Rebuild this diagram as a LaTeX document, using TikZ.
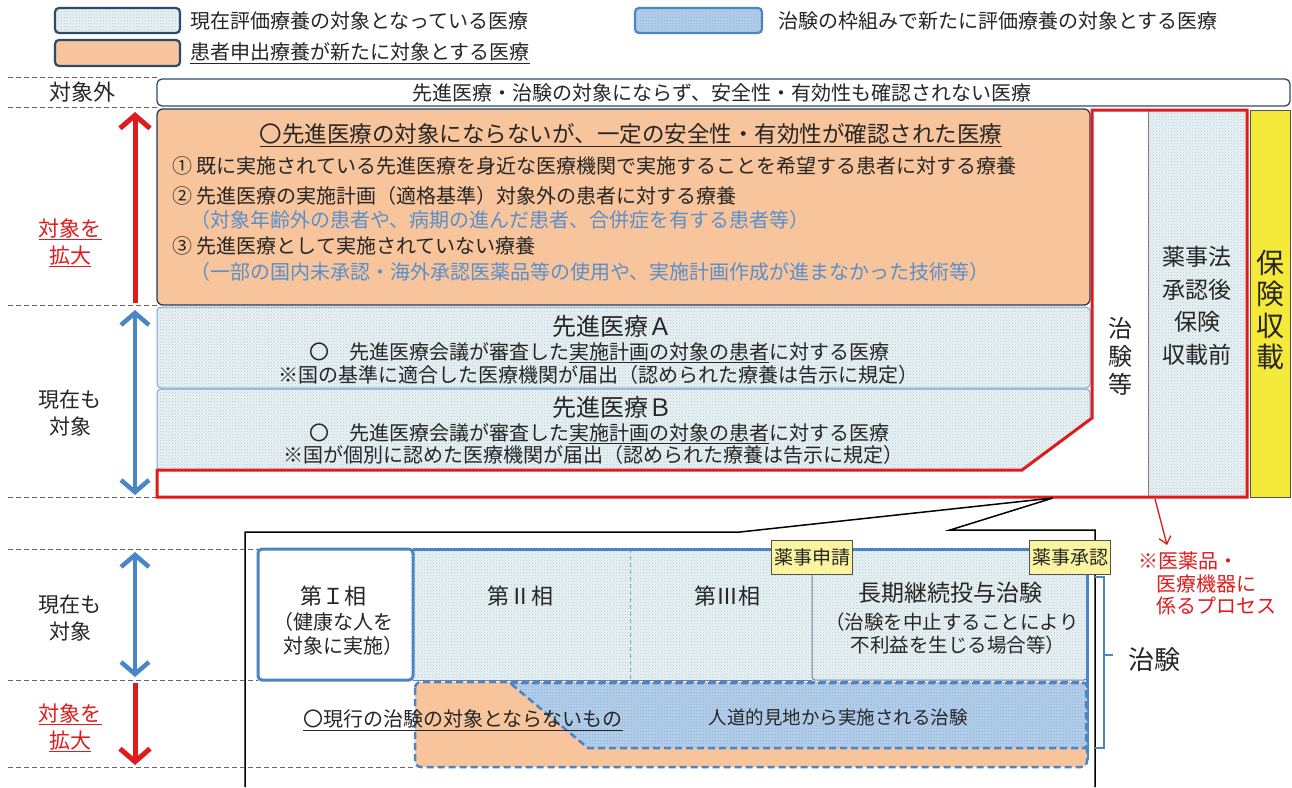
\documentclass[tikz,border=0pt]{standalone}
\usepackage{fontspec}
\setmainfont{Noto Sans CJK JP}
\usetikzlibrary{patterns,arrows.meta}
\definecolor{navy}{HTML}{2E4A6B}
\definecolor{orangef}{HTML}{F7C49B}
\definecolor{lightf}{HTML}{E9F2F5}
\definecolor{lightdot}{HTML}{AFC5CE}
\definecolor{bluef}{HTML}{B5D0EC}
\definecolor{bluedot}{HTML}{86A8CF}
\definecolor{myblue}{HTML}{4A86C5}
\definecolor{thinblue}{HTML}{7FA6CF}
\definecolor{myred}{HTML}{E01B1B}
\definecolor{txtblue}{HTML}{5A8FCB}
\definecolor{yel}{HTML}{F5E93A}
\definecolor{paleyel}{HTML}{FAF4A0}
\definecolor{txt}{HTML}{262626}
\newcommand{\jfs}[2]{\fontsize{#1}{#2}\selectfont}
\tikzset{
  lightdots/.style={preaction={fill=lightf}, pattern=crosshatch dots, pattern color=lightdot},
  bluedots/.style={preaction={fill=bluef}, pattern=crosshatch dots, pattern color=bluedot},
  guide/.style={draw=gray!80!black, line width=0.9pt, dash pattern=on 5pt off 3pt},
  bigred/.style={draw=myred, line width=5pt, -{Straight Barb[length=13pt,width=30pt]}},
  bigblue/.style={draw=myblue, line width=4.5pt, {Straight Barb[length=12pt,width=28pt]}-{Straight Barb[length=12pt,width=28pt]}},
  lbl/.style={font=\jfs{20}{24}},
  yellab/.style={draw=txt!80, line width=1pt, fill=paleyel, minimum width=81pt, minimum height=34pt, font=\jfs{19}{20}},
}
\begin{document}
\begin{tikzpicture}[x=1pt,y=-1pt, every node/.style={inner sep=0pt, text=txt}]
\useasboundingbox (0,0) rectangle (1292,787);
\fill[white] (0,0) rectangle (1292,787);

% ---------- legend ----------
\path[draw=navy, line width=2.2pt, rounded corners=4pt, lightdots] (55,8) rectangle (180,33);
\node[lbl, anchor=west] (leg1) at (190,21) {現在評価療養の対象となっている医療};
\path[draw=navy, line width=2.2pt, rounded corners=4pt, fill=orangef] (55,40) rectangle (180,66);
\node[lbl, anchor=west] (leg2) at (190,53) {\underline{患者申出療養が新たに対象とする医療}};
\path[draw=myblue, line width=2.2pt, rounded corners=4pt, bluedots] (635,8) rectangle (762,33);
\node[lbl, anchor=west] (leg3) at (778,21) {治験の枠組みで新たに評価療養の対象とする医療};

% ---------- guide lines (top part) ----------
\draw[guide] (8,77) -- (160,77);
\draw[guide] (8,107) -- (160,107);
\draw[guide] (8,305) -- (157,305);
\draw[guide] (8,497) -- (157,497);

% ---------- out-of-scope row ----------
\node[font=\jfs{22}{24}] (gai) at (82,92) {対象外};
\path[draw=navy, line width=1.3pt, rounded corners=5pt, fill=white] (157,79) rectangle (1290,106);
\node[lbl] (outtxt) at (722,93) {先進医療・治験の対象にならず、安全性・有効性も確認されない医療};

% ---------- orange box ----------
\path[draw=navy!80!black, line width=1.3pt, rounded corners=6pt, fill=orangef] (157,109) rectangle (1090,305);
\node[font=\jfs{22.5}{24}] (otitle) at (631,135) {\underline{〇先進医療の対象にならないが、一定の安全性・有効性が確認された医療}};
\node[lbl, anchor=west] (o1) at (172,166) {① 既に実施されている先進医療を身近な医療機関で実施することを希望する患者に対する療養};
\node[lbl, anchor=west] (o2) at (172,196) {② 先進医療の実施計画（適格基準）対象外の患者に対する療養};
\node[lbl, anchor=west, text=txtblue] (o2b) at (190,220) {（対象年齢外の患者や、病期の進んだ患者、合併症を有する患者等）};
\node[lbl, anchor=west] (o3) at (172,246) {③ 先進医療として実施されていない療養};
\node[lbl, anchor=west, text=txtblue] (o3b) at (190,272) {（一部の国内未承認・海外承認医薬品等の使用や、実施計画作成が進まなかった技術等）};

% ---------- senshin A / B ----------
\path[draw=thinblue, line width=1pt, rounded corners=4pt, lightdots] (157,307) rectangle (1090,388);
\node[font=\jfs{24}{26}] (atitle) at (612,326) {先進医療Ａ};
\node[lbl] (a1) at (599,353) {〇　先進医療会議が審査した\underline{実施計画の対象の患者}に対する医療};
\node[lbl] (a2) at (598,375) {※国の基準に適合した医療機関が届出（認められた療養は告示に規定）};
\path[draw=thinblue, line width=1pt, rounded corners=4pt, lightdots] (157,389) rectangle (1090,470);
\node[font=\jfs{24}{26}] (btitle) at (612,407) {先進医療Ｂ};
\node[lbl] (b1) at (599,434) {〇　先進医療会議が審査した\underline{実施計画の対象の患者}に対する医療};
\node[lbl] (b2) at (593,455) {※国が個別に認めた医療機関が届出（認められた療養は告示に規定）};
\fill[white] (1020,473) -- (1092,416) -- (1094,416) -- (1094,473) -- cycle;

% ---------- right columns ----------
\fill[white] (1092,110) rectangle (1148,497);
\path[lightdots] (1148,110) rectangle (1247,497);
\draw[gray, line width=1pt] (1148,110) -- (1148,497);
\node[font=\jfs{24}{28}, align=center] (chiken) at (1120,356) {治\\験\\等};
\node[font=\jfs{23}{32.5}, align=center] (yakuji) at (1197,306) {薬事法\\承認後\\保険\\収載前};
\path[draw=txt!80, line width=1pt, fill=yel] (1250,110) rectangle (1290,497);
\node[font=\jfs{28}{31.5}, align=center] (hoken) at (1270,310) {保\\険\\収\\載};

% red outline
\draw[myred, line width=3pt, line join=miter] (157,470) -- (1022,470) -- (1092,418) -- (1092,110) -- (1247,110) -- (1247,497) -- (157,497) -- cycle;

% ---------- left arrows (top) ----------
\coordinate (ra1) at (135,303);
\coordinate (ra2) at (135,112);
\draw[bigred] (ra1) -- (ra2);
\node[font=\jfs{21}{27}, text=myred, align=center] (kakudai1) at (70,243) {\underline{対象を}\\\underline{拡大}};
\coordinate (ba1) at (135,310);
\coordinate (ba2) at (135,495);
\draw[bigblue] (ba1) -- (ba2);
\node[font=\jfs{21}{27}, align=center] (genzai1) at (70,413) {現在も\\対象};

% ---------- callout ----------
\draw[black, line width=1.5pt, line join=miter] (245,787) -- (245,532) -- (740,532) -- (1053,498) -- (950,530) -- (1095,530) -- (1095,787);

% ---------- bottom guides & arrows ----------
\draw[guide] (8,549) -- (258,549);
\draw[guide] (8,680) -- (258,680);
\draw[guide] (8,767) -- (415,767);
\coordinate (ba3) at (135,552);
\coordinate (ba4) at (135,677);
\draw[bigblue] (ba3) -- (ba4);
\node[font=\jfs{21}{27}, align=center] (genzai2) at (70,618) {現在も\\対象};
\coordinate (ra3) at (135,683);
\coordinate (ra4) at (135,765);
\draw[bigred] (ra3) -- (ra4);
\node[font=\jfs{21}{27}, text=myred, align=center] (kakudai2) at (70,728) {\underline{対象を}\\\underline{拡大}};

% ---------- phases ----------
\path[lightdots] (413,549) rectangle (812,680);
\draw[thinblue, line width=1pt, dash pattern=on 4pt off 3pt] (630,549) -- (630,680);
\path[lightdots, draw=navy!70, line width=1pt, rounded corners=3pt] (812,549) rectangle (1087,680);
\draw[navy!70, line width=1pt] (413,680) -- (812,680);
\draw[myblue, line width=3pt] (413,549) -- (1087,549) -- (1087,760);
\path[draw=myblue, line width=3pt, rounded corners=4pt, fill=white] (258,549) rectangle (413,680);
\node[font=\jfs{22}{24}] (p1) at (333,596) {第Ｉ相};
\node[lbl] (p1a) at (333,622) {（健康な人を};
\node[lbl] (p1b) at (343,646) {対象に実施）};
\node[font=\jfs{22}{24}] (p2) at (520,596) {第Ⅱ相};
\node[font=\jfs{22}{24}] (p3) at (727,596) {第Ⅲ相};
\node[font=\jfs{23}{24}] (p4) at (950,593) {長期継続投与治験};
\node[font=\jfs{19.5}{22}] (p4a) at (952,622) {（治験を中止することにより};
\node[font=\jfs{19.5}{22}] (p4b) at (958,645) {不利益を生じる場合等）};

% bottom row
\path[fill=orangef, draw=myblue, line width=2.5pt, dash pattern=on 7pt off 4pt, rounded corners=6pt] (415,682) rectangle (1087,767);
\path[bluedots, draw=myblue, line width=2.5pt, dash pattern=on 7pt off 4pt] (510,683) -- (1086,683) -- (1086,748) -- (588,748) -- cycle;
\node[lbl, anchor=west] (genko) at (303,720) {\underline{〇現行の治験の対象とならないもの}};
\node[font=\jfs{18.5}{20}] (jindo) at (838,717) {人道的見地から実施される治験};

% yellow labels
\node[yellab] (shinsei) at (812,557) {薬事申請};
\node[yellab] (shonin) at (1070,557) {薬事承認};

% brace
\draw[myblue, line width=2.5pt] (1095,577) -- (1104,577) -- (1104,748) -- (1095,748);
\coordinate (br) at (1104,655);
\coordinate (brt) at (1113,655);
\draw[myblue, line width=2.5pt] (br) -- (brt);
\node[font=\jfs{26}{28}, anchor=west] (chiken2) at (1128,660) {治験};

% red note arrow
\coordinate (na1) at (1155,499);
\coordinate (na2) at (1167,545);
\draw[myred, line width=1.3pt, -{Straight Barb[length=7pt,width=12pt]}] (na1) -- (na2);
\node[lbl, text=myred, anchor=west] (note1) at (1138,561) {※医薬品・};
\node[lbl, text=myred, anchor=west] (note2) at (1156,584) {医療機器に};
\node[lbl, text=myred, anchor=west] (note3) at (1156,606) {係るプロセス};
\end{tikzpicture}
\end{document}
